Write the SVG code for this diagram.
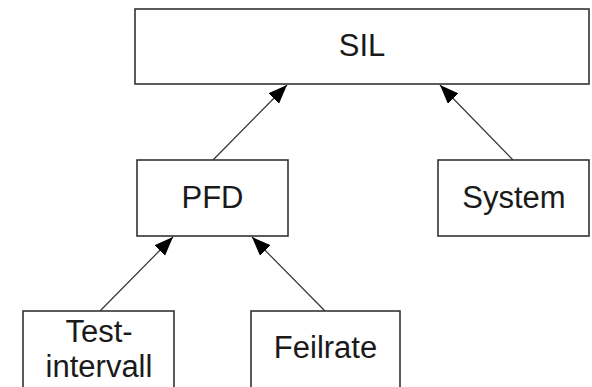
<svg xmlns="http://www.w3.org/2000/svg" width="592" height="387" viewBox="0 0 592 387">
  <style>
    .box { fill: #ffffff; stroke: #333333; stroke-width: 1.6; }
    .label { font-family: "Liberation Sans", Arial, sans-serif; font-size: 31px; fill: #1a1a1a; text-anchor: middle; }
    .edge { stroke: #333333; stroke-width: 1.2; fill: none; marker-end: url(#arrow); }
  </style>
  <defs>
    <marker id="arrow" markerUnits="userSpaceOnUse" markerWidth="20" markerHeight="16" refX="19" refY="7.5" orient="auto">
      <path d="M0,0 L19,7.5 L0,15 z" fill="#000000"/>
    </marker>
  </defs>
  <rect width="592" height="387" fill="#ffffff"/>

  <g id="connectors">
    <line class="edge" x1="213" y1="160" x2="287" y2="85"/>
    <line class="edge" x1="513" y1="160" x2="440" y2="85"/>
    <line class="edge" x1="100" y1="311" x2="173" y2="237"/>
    <line class="edge" x1="325" y1="311" x2="252" y2="237"/>
  </g>

  <g id="node-sil">
    <rect class="box" x="135" y="9" width="454" height="75"/>
    <text class="label" x="362" y="56">SIL</text>
  </g>

  <g id="node-pfd">
    <rect class="box" x="137" y="160" width="151" height="76"/>
    <text class="label" x="212.5" y="208">PFD</text>
  </g>

  <g id="node-system">
    <rect class="box" x="438" y="160" width="151" height="76"/>
    <text class="label" x="514" y="208">System</text>
  </g>

  <g id="node-testintervall">
    <rect class="box" x="23" y="311" width="151" height="90"/>
    <text class="label" x="99" y="342">Test-</text>
    <text class="label" x="99" y="377">intervall</text>
  </g>

  <g id="node-feilrate">
    <rect class="box" x="251" y="311" width="149" height="90"/>
    <text class="label" x="325.5" y="358">Feilrate</text>
  </g>
</svg>
